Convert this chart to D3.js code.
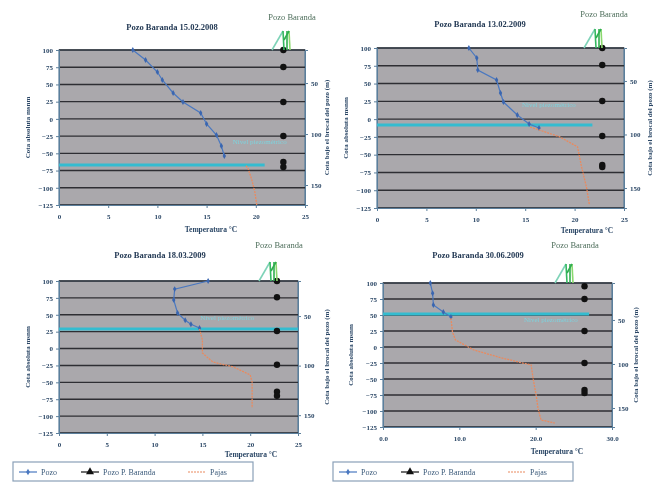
<!DOCTYPE html>
<html>
<head>
<meta charset="utf-8">
<script src="https://cdnjs.cloudflare.com/ajax/libs/d3/7.8.5/d3.min.js"></script>
<style>
  body { margin: 0; background: #fff; }
  svg { display: block; filter: blur(0.55px); }
  text { font-family: "Liberation Serif", serif; }
</style>
</head>
<body>
<svg id="chart" width="665" height="484"></svg>
<script>
// titles and tick labels
var titles = ["Pozo Baranda 15.02.2008", "Pozo Baranda 13.02.2009", "Pozo Baranda 18.03.2009", "Pozo Baranda 30.06.2009"];
var leftTicks = [100, 75, 50, 25, 0, -25, -50, -75, -100, -125];
var rightTicks = [50, 100, 150];
var xTicksA = [0, 5, 10, 15, 20, 25];
var xTicksB = [0, 10, 20, 30];
var legendNames = ["Pozo", "Pozo P. Baranda", "Pajas"];

// temperature (C) vs cota, part above water level
var pozo1 = [[7.5, 100], [8.8, 85.5], [10.0, 68], [10.5, 56.5], [11.6, 37.6], [12.6, 24.5], [14.4, 8.5], [15.0, -7.4], [16.0, -23.4], [16.5, -39.4], [16.8, -53.9]];
var pozo2 = [[9.3, 100], [10.1, 86], [10.2, 69], [12.1, 55], [12.5, 36.7], [12.8, 24], [14.2, 5.8], [15.4, -6.9], [16.4, -12.5]];
var pozo3 = [[15.6, 100], [12.1, 88], [12.0, 72], [12.4, 52.6], [13.2, 42], [13.8, 36], [14.7, 30.4]];
var pozo4 = [[6.2, 100], [6.5, 84], [6.6, 65.6], [7.9, 54.7], [8.9, 47]];

// part below water level
var bajo1 = [[19.0, -68], [19.2, -71.3], [19.6, -88.7], [19.9, -106], [20.1, -125]];
var bajo2 = [[15.5, -11], [18.5, -25], [20.3, -39], [20.7, -67], [21.2, -95.5], [21.5, -120.8]];
var bajo3 = [[14.7, 29], [15.0, 12.7], [15.0, -6.6], [16.1, -20], [18.2, -27], [20.0, -39], [20.2, -49.5], [20.2, -71.7], [20.2, -88]];
var bajo4 = [[8.9, 45], [9.1, 23.4], [9.5, 11], [11.9, -4.7], [15.1, -15.6], [17.7, -23.4], [19.4, -28], [19.7, -51.6], [20.1, -78], [20.3, -95.3], [20.7, -114], [22.5, -118.8]];

// Pozo P. Baranda points
var punto1 = [[22.8, 100], [22.8, 75.3], [22.8, 24.5], [22.8, -24.8], [22.8, -62.6], [22.8, -69.8]];
var punto2 = [[22.8, 100], [22.8, 76], [22.8, 25.5], [22.8, -23.8], [22.8, -64.5], [22.8, -67.3]];
var punto3 = [[22.8, 100], [22.8, 76], [22.8, 26], [22.8, -24], [22.8, -64], [22.8, -70]];
var punto4 = [[26.4, 95], [26.4, 75], [26.4, 25], [26.4, -25], [26.4, -67], [26.4, -72]];

// water level: cota, x start, x end
var nivel1 = [-67, 0, 20.9];
var nivel2 = [-8.3, 0, 21.8];
var nivel3 = [29, 0, 25];
var nivel4 = [51.6, 0, 27];

var rightDomains = [[17.6, 169.6], [19.2, 168.7], [14.6, 168], [8, 171.6]];

var svg = d3.select("#chart");

var panels = [
  {left: 59, right: 305, top: 50, bottom: 205, xDom: [0, 25], xTicks: xTicksA, fmt: d3.format("d"),
   pozo: pozo1, bajo: bajo1, punto: punto1, nivel: nivel1, nivelLbl: [20.4, -36.5],
   titleX: 172, titleY: 30, greenX: 292, yTitleL: 30, yTitleR: 329, xTitle: [211, 232]},
  {left: 377, right: 624, top: 48, bottom: 208, xDom: [0, 25], xTicks: xTicksA, fmt: d3.format("d"),
   pozo: pozo2, bajo: bajo2, punto: punto2, nivel: nivel2, nivelLbl: [17.4, 17],
   titleX: 480, titleY: 27, greenX: 604, yTitleL: 348, yTitleR: 652, xTitle: [587, 233]},
  {left: 59, right: 298, top: 281, bottom: 433, xDom: [0, 25], xTicks: xTicksA, fmt: d3.format("d"),
   pozo: pozo3, bajo: bajo3, punto: punto3, nivel: nivel3, nivelLbl: [17.6, 42],
   titleX: 160, titleY: 258, greenX: 279, yTitleL: 30, yTitleR: 329, xTitle: [251, 457]},
  {left: 383, right: 612, top: 283, bottom: 427, xDom: [0, 30], xTicks: xTicksB, fmt: d3.format(".1f"),
   pozo: pozo4, bajo: bajo4, punto: punto4, nivel: nivel4, nivelLbl: [22, 39],
   titleX: 478, titleY: 258, greenX: 575, yTitleL: 353, yTitleR: 638, xTitle: [557, 454]}
];

var axisColor = "#2b4766";

panels.forEach(function(p, i){
  var x = d3.scaleLinear().domain(p.xDom).range([p.left, p.right]);
  var y = d3.scaleLinear().domain([-125, 100]).range([p.bottom, p.top]);
  var yr = d3.scaleLinear().domain(rightDomains[i]).range([p.top, p.bottom]);
  var g = svg.append("g");

  //plot area
  g.append("rect")
    .attr("x", p.left).attr("y", p.top)
    .attr("width", p.right - p.left).attr("height", p.bottom - p.top)
    .style("fill", "#aaa8ac")
    .style("stroke", "#5b7f9c").style("stroke-width", 1.2);

  //gridlines
  g.selectAll(".grid").data(leftTicks).enter().append("line")
    .attr("x1", p.left).attr("x2", p.right)
    .attr("y1", function(d){ return y(d); }).attr("y2", function(d){ return y(d); })
    .style("stroke", "#2e2e33").style("stroke-width", 1.4);

  //axes
  var ax = [
    g.append("g").attr("transform", "translate(" + p.left + ",0)")
      .call(d3.axisLeft(y).tickValues(leftTicks).tickSize(3)),
    g.append("g").attr("transform", "translate(0," + p.bottom + ")")
      .call(d3.axisBottom(x).tickValues(p.xTicks).tickFormat(p.fmt).tickSize(3)),
    g.append("g").attr("transform", "translate(" + p.right + ",0)")
      .call(d3.axisRight(yr).tickValues(rightTicks).tickSize(3))
  ];
  ax.forEach(function(a){
    a.select(".domain").style("stroke", "#5b7f9c");
    a.selectAll("line").style("stroke", "#5b7f9c");
    a.selectAll("text").style("font-size", "7px").style("fill", axisColor).style("font-weight", "bold");
  });
  ax[1].selectAll("text").attr("dy", "1.1em");

  //water level
  g.append("line")
    .attr("x1", x(p.nivel[1])).attr("x2", x(p.nivel[2]))
    .attr("y1", y(p.nivel[0])).attr("y2", y(p.nivel[0]))
    .style("stroke", "#34bcd0").style("stroke-width", 3);

  g.append("text")
    .attr("x", x(p.nivelLbl[0])).attr("y", y(p.nivelLbl[1]))
    .attr("text-anchor", "middle")
    .style("font-size", "7px").style("fill", "#7dd3de")
    .text("Nivel piezométrico");

  var line = d3.line()
    .x(function(d){ return x(d[0]); })
    .y(function(d){ return y(d[1]); });

  g.append("path").datum(p.pozo).attr("d", line)
    .style("fill", "none").style("stroke", "#4a78c0").style("stroke-width", 1.2);
  g.selectAll(".pz").data(p.pozo).enter().append("path")
    .attr("transform", function(d){ return "translate(" + x(d[0]) + "," + y(d[1]) + ")"; })
    .attr("d", d3.symbol().type(d3.symbolDiamond).size(10))
    .style("fill", "#3a66b0");

  g.append("path").datum(p.bajo).attr("d", line)
    .style("fill", "none").style("stroke", "#ea8a5e").style("stroke-width", 1.3)
    .style("stroke-dasharray", "2,1");

  g.selectAll(".pt").data(p.punto).enter().append("circle")
    .attr("cx", function(d){ return x(d[0]); })
    .attr("cy", function(d){ return y(d[1]); })
    .attr("r", 3.2)
    .style("fill", "#111");

  //well sketch with label
  var gx = p.greenX, gy = p.top;
  g.append("text")
    .attr("x", gx).attr("y", p.titleY - 10)
    .attr("text-anchor", "middle")
    .style("font-size", "8.5px").style("fill", "#4f6f5c")
    .text("Pozo Baranda");
  var sketch = [[gx - 20, gy, gx - 9, gy - 19, "#7fd3b8"], [gx - 8, gy, gx - 9, gy - 19, "#34b860"],
                [gx - 5, gy, gx - 5, gy - 19, "#2fae4f"], [gx - 2, gy, gx - 3, gy - 19, "#8ad86e"],
                [gx - 8, gy - 10, gx - 3, gy - 19, "#2fae4f"]];
  g.selectAll(".sk").data(sketch).enter().append("line")
    .attr("x1", function(d){ return d[0]; }).attr("y1", function(d){ return d[1]; })
    .attr("x2", function(d){ return d[2]; }).attr("y2", function(d){ return d[3]; })
    .style("stroke", function(d){ return d[4]; }).style("stroke-width", 1.6);

  //titles
  g.append("text")
    .attr("x", p.titleX).attr("y", p.titleY)
    .attr("text-anchor", "middle")
    .style("font-size", "8.5px").style("font-weight", "bold").style("fill", "#243a55")
    .text(titles[i]);

  g.append("text")
    .attr("x", p.xTitle[0]).attr("y", p.xTitle[1])
    .attr("text-anchor", "middle")
    .style("font-size", "7.5px").style("font-weight", "bold").style("fill", axisColor)
    .text("Temperatura °C");

  g.append("text")
    .attr("transform", "translate(" + p.yTitleL + "," + ((p.top + p.bottom) / 2) + ") rotate(-90)")
    .attr("text-anchor", "middle")
    .style("font-size", "7px").style("font-weight", "bold").style("fill", axisColor)
    .text("Cota absoluta msnm");

  g.append("text")
    .attr("transform", "translate(" + p.yTitleR + "," + ((p.top + p.bottom) / 2) + ") rotate(-90)")
    .attr("text-anchor", "middle")
    .style("font-size", "7px").style("font-weight", "bold").style("fill", axisColor)
    .text("Cota bajo el brocal del pozo (m)");
});

//legends
[13, 333].forEach(function(lx){
  var lg = svg.append("g").attr("transform", "translate(" + lx + ",462)");
  lg.append("rect").attr("width", 240).attr("height", 19)
    .style("fill", "#fff").style("stroke", "#8aa0b8").style("stroke-width", 1.2);
  var items = [
    {x: 6, color: "#4a78c0", sym: d3.symbolDiamond, dash: null},
    {x: 68, color: "#111", sym: d3.symbolTriangle, dash: null},
    {x: 175, color: "#ea8a5e", sym: null, dash: "2,1"}
  ];
  items.forEach(function(it, k){
    lg.append("line").attr("x1", it.x).attr("x2", it.x + 18).attr("y1", 10).attr("y2", 10)
      .style("stroke", it.color).style("stroke-width", 1.2).style("stroke-dasharray", it.dash);
    if(it.sym) lg.append("path").attr("transform", "translate(" + (it.x + 9) + ",10)")
      .attr("d", d3.symbol().type(it.sym).size(it.sym === d3.symbolTriangle ? 28 : 12))
      .style("fill", it.color);
    lg.append("text").attr("x", it.x + 22).attr("y", 13)
      .style("font-size", "8px").style("fill", "#3b5a7a")
      .text(legendNames[k]);
  });
});
</script>
</body>
</html>
